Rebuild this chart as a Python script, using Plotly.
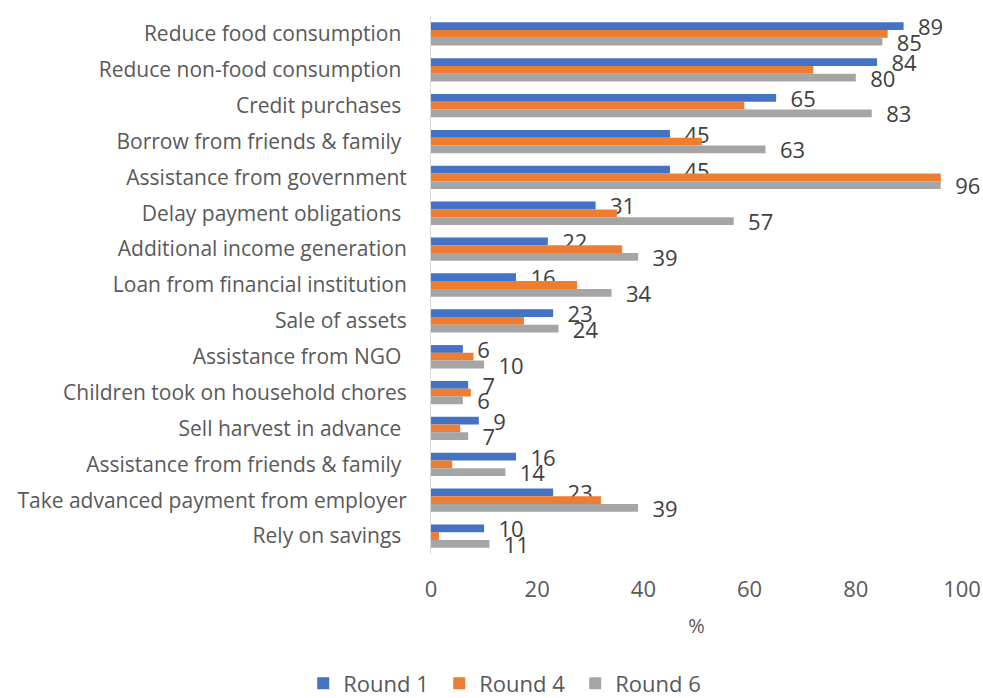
import plotly.graph_objects as go

# Coping strategies, listed top to bottom
strategies = [
    "Reduce food consumption\u00a0",
    "Reduce non-food consumption\u00a0",
    "Credit purchases\u00a0",
    "Borrow from friends & family\u00a0",
    "Assistance from government",
    "Delay payment obligations\u00a0",
    "Additional income generation",
    "Loan from financial institution",
    "Sale of assets",
    "Assistance from NGO\u00a0",
    "Children took on household chores",
    "Sell harvest in advance\u00a0",
    "Assistance from friends & family\u00a0",
    "Take advanced payment from employer",
    "Rely on savings\u00a0",
]

round1 = [89, 84, 65, 45, 45, 31, 22, 16, 23, 6, 7, 9, 16, 23, 10]
round4 = [86, 72, 59, 51, 96, 35, 36, 27.5, 17.5, 8, 7.5, 5.5, 4, 32, 1.5]
round6 = [85, 80, 83, 63, 96, 57, 39, 34, 24, 10, 6, 7, 14, 39, 11]

x_ticks = [0, 20, 40, 60, 80, 100]

FONT = "Open Sans, Carlito, Calibri, sans-serif"
LABEL_COLOR = "#404040"
AXIS_COLOR = "#595959"

fig = go.Figure()

series = [
    ("Round 1", round1, "#4472C4", True),
    ("Round 4", round4, "#ED7D31", False),
    ("Round 6", round6, "#A5A5A5", True),
]

for name, values, color, labelled in series:
    fig.add_trace(go.Bar(
        name=name,
        y=strategies,
        x=values,
        orientation="h",
        marker=dict(color=color, line=dict(width=0)),
        text=[f"\u00a0\u00a0{v:g}" for v in values] if labelled else None,
        textposition="outside" if labelled else "none",
        textfont=dict(family=FONT, size=22, color=LABEL_COLOR),
        constraintext="none",
        cliponaxis=False,
        hoverinfo="x+name",
    ))

fig.update_layout(
    width=983,
    height=698,
    margin=dict(l=431, r=21, t=16, b=144, autoexpand=False),
    paper_bgcolor="white",
    plot_bgcolor="white",
    barmode="group",
    bargap=0.35,
    bargroupgap=0,
    font=dict(family=FONT, color=AXIS_COLOR),
    showlegend=True,
    legend=dict(
        orientation="h",
        xref="container", yref="container",
        x=0.516, xanchor="center",
        y=0.021, yanchor="middle",
        font=dict(family=FONT, size=22, color=AXIS_COLOR),
        itemwidth=30,
        entrywidth=91,
        traceorder="normal",
    ),
    xaxis=dict(
        range=[0, 100],
        tickvals=x_ticks,
        ticktext=[str(t) for t in x_ticks],
        tickfont=dict(family=FONT, size=22, color=AXIS_COLOR),
        ticklabelstandoff=20,
        ticklabeloverflow="allow",
        automargin=False,
        showgrid=False,
        zeroline=False,
        showline=False,
        ticks="",
        title=dict(text="%", font=dict(family=FONT, size=20, color=AXIS_COLOR), standoff=16),
    ),
    yaxis=dict(
        autorange="reversed",
        automargin=False,
        showgrid=False,
        zeroline=False,
        showline=True,
        linecolor="#D9D9D9",
        linewidth=1,
        ticks="",
        tickfont=dict(family=FONT, size=21, color=AXIS_COLOR),
        ticklabelstandoff=19,
    ),
)

fig.write_html("out.html")
